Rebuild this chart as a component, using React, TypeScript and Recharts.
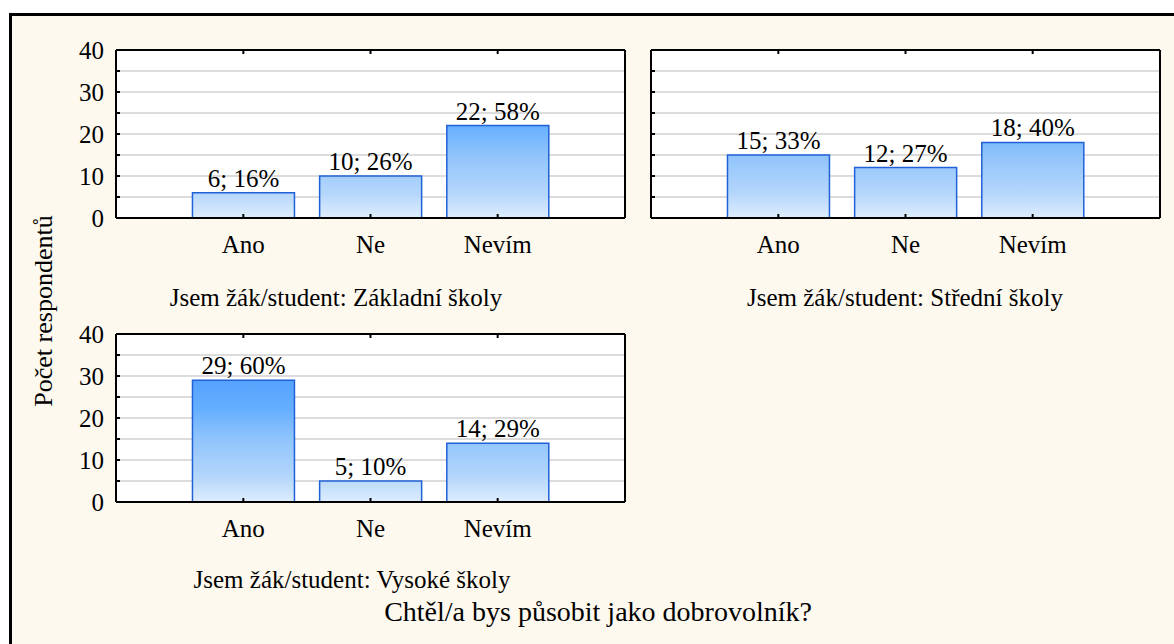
import React from 'react';
import { BarChart, Bar, XAxis, YAxis, CartesianGrid, LabelList } from 'recharts';

const categories = ['Ano', 'Ne', 'Nevím'];
const zsCounts = [6, 10, 22];
const zsPct = [16, 26, 58];
const ssCounts = [15, 12, 18];
const ssPct = [33, 27, 40];
const vsCounts = [29, 5, 14];
const vsPct = [60, 10, 29];
const yTicks = [0, 5, 10, 15, 20, 25, 30, 35, 40];
const yLabeled = [0, 10, 20, 30, 40];
const subtitles = [
  'Jsem žák/student: Základní školy',
  'Jsem žák/student: Střední školy',
  'Jsem žák/student: Vysoké školy',
];
const title = 'Chtěl/a bys působit jako dobrovolník?';
const yLabel = 'Počet respondentů';

const FONT = "'Times New Roman', Tinos, 'Liberation Serif', 'Noto Serif', 'DejaVu Serif', FreeSerif, 'Nimbus Roman', Times, serif";
const CHART_W = 640;
const CHART_H = 260;
const PLOT_TOP = 50;
const PLOT_BOTTOM = 218;

function build(counts: number[], pcts: number[]) {
  return categories.map((name, i) => ({
    name,
    value: counts[i],
    label: `${counts[i]}; ${pcts[i]}%`,
  }));
}

function Panel({ id, data, showYLabels, left, top }: { id: string; data: any[]; showYLabels: boolean; left: number; top: number }) {
  const pad = { left: 63.75, right: 63.75 };
  return (
    <div style={{ position: 'absolute', left, top, width: CHART_W, height: CHART_H }}>
      <BarChart
        width={CHART_W}
        height={CHART_H}
        data={data}
        margin={{ top: PLOT_TOP - 1, left: 16, right: 14, bottom: CHART_H - PLOT_BOTTOM - 30 }}
        barCategoryGap="10%"
        style={{ fontFamily: FONT }}
      >
        <defs>
          <linearGradient id={id} gradientUnits="userSpaceOnUse" x1="0" y1={PLOT_TOP} x2="0" y2={PLOT_BOTTOM}>
            <stop offset="0" stopColor="#3a8ffc" />
            <stop offset="0.45" stopColor="#66afff" />
            <stop offset="0.625" stopColor="#90c4fc" />
            <stop offset="0.85" stopColor="#b4d6fb" />
            <stop offset="1" stopColor="#deedfd" />
          </linearGradient>
        </defs>
        <CartesianGrid vertical={false} stroke="#dcdcdc" strokeWidth={2} fill="#ffffff" />
        <Bar dataKey="value" fill={`url(#${id})`} stroke="#2161d8" strokeWidth={1.5} isAnimationActive={false}>
          <LabelList
            dataKey="label"
            position="top"
            offset={6}
            style={{ fontFamily: FONT, fontSize: 25, fill: '#000' }}
          />
        </Bar>
        <XAxis
          dataKey="name"
          padding={pad}
          height={30}
          interval={0}
          tickSize={-4}
          tickMargin={21}
          axisLine={{ stroke: '#000', strokeWidth: 2 }}
          tickLine={{ stroke: '#000', strokeWidth: 2 }}
          tick={{ fontFamily: FONT, fontSize: 25, fill: '#000' }}
        />
        <XAxis
          xAxisId="top"
          orientation="top"
          dataKey="name"
          padding={pad}
          height={1}
          interval={0}
          tickSize={-4}
          tickFormatter={() => ''}
          axisLine={{ stroke: '#000', strokeWidth: 2 }}
          tickLine={{ stroke: '#000', strokeWidth: 2 }}
        />
        <YAxis
          domain={[0, 40]}
          ticks={yTicks}
          interval={0}
          width={100}
          tickSize={-4}
          tickMargin={16}
          tickFormatter={(v: number) => (showYLabels && yLabeled.includes(v) ? String(v) : '')}
          axisLine={{ stroke: '#000', strokeWidth: 2 }}
          tickLine={{ stroke: '#000', strokeWidth: 2 }}
          tick={{ fontFamily: FONT, fontSize: 25, fill: '#000' }}
        />
        <YAxis
          yAxisId="r"
          orientation="right"
          domain={[0, 40]}
          ticks={yTicks}
          interval={0}
          width={1}
          tickSize={-4}
          tickFormatter={() => ''}
          axisLine={{ stroke: '#000', strokeWidth: 2 }}
          tickLine={{ stroke: '#000', strokeWidth: 2 }}
        />
      </BarChart>
    </div>
  );
}

export default function App() {
  return (
    <div style={{ position: 'absolute', left: 0, top: 0, width: 1174, height: 644, background: '#ffffff', overflow: 'hidden', fontFamily: FONT }}>
      <div
        style={{
          position: 'absolute',
          left: 9,
          top: 13,
          width: 1200,
          height: 700,
          background: '#fef9ee',
          borderTop: '3px solid #000',
          borderLeft: '3px solid #000',
        }}
      />
      <Panel id="g1" data={build(zsCounts, zsPct)} showYLabels={true} left={0} top={0} />
      <Panel id="g2" data={build(ssCounts, ssPct)} showYLabels={false} left={535} top={0} />
      <Panel id="g3" data={build(vsCounts, vsPct)} showYLabels={true} left={0} top={284} />
      <svg style={{ position: 'absolute', left: 0, top: 0 }} width={1174} height={644}>
        <g style={{ fontFamily: FONT }} fill="#000">
          <text x={336} y={306} fontSize={25} textAnchor="middle">{subtitles[0]}</text>
          <text x={905} y={306} fontSize={25} textAnchor="middle">{subtitles[1]}</text>
          <text x={352} y={588} fontSize={25} textAnchor="middle">{subtitles[2]}</text>
          <text x={598} y={621} fontSize={28} textAnchor="middle">{title}</text>
          <text x={52} y={311} fontSize={26} textAnchor="middle" transform="rotate(-90, 52, 311)">{yLabel}</text>
        </g>
      </svg>
    </div>
  );
}
